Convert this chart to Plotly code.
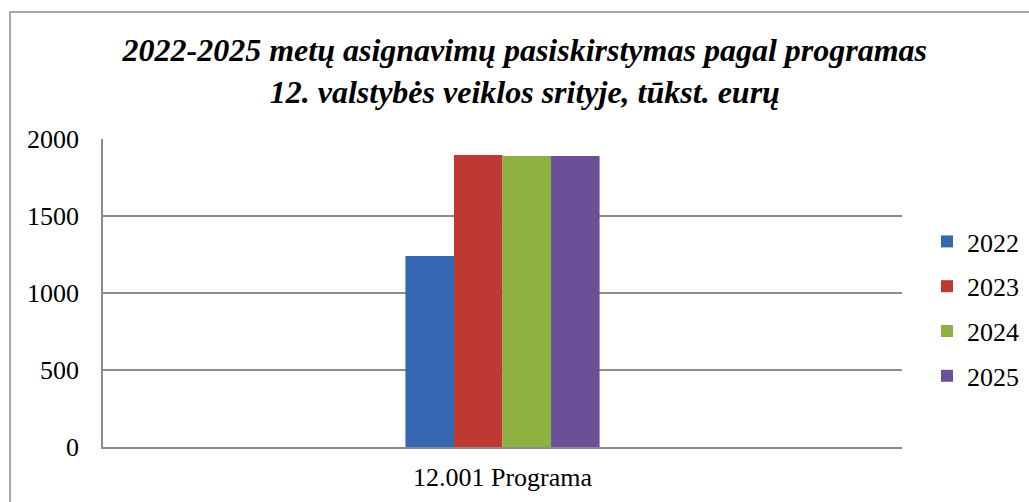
import plotly.graph_objects as go

categories = ["12.001 Programa"]
series_names = ["2022", "2023", "2024", "2025"]
values_2022 = [1240]
values_2023 = [1896]
values_2024 = [1890]
values_2025 = [1890]
series_values = [values_2022, values_2023, values_2024, values_2025]
colors = ["#3468B2", "#BE3834", "#8CB042", "#6D4F98"]
title_lines = ["2022-2025 metų asignavimų pasiskirstymas pagal programas",
               "12. valstybės veiklos srityje, tūkst. eurų"]
y_ticks = [0, 500, 1000, 1500, 2000]

FONT = "Liberation Serif"

fig = go.Figure()
for name, vals, col in zip(series_names, series_values, colors):
    fig.add_trace(go.Bar(x=categories, y=vals, name=name, legendgroup=name,
                         marker=dict(color=col, line=dict(width=0))))

W, H = 1029, 502
L, R, T, B = 103, 127, 139, 55
pw, ph = W - L - R, H - T - B

fig.update_layout(
    width=W, height=H,
    margin=dict(l=L, r=R, t=T, b=B, autoexpand=False),
    paper_bgcolor="white", plot_bgcolor="white",
    barmode="group", bargap=0.757, bargroupgap=0,
    font=dict(family=FONT, size=26, color="black"),
    title=dict(text="<br>".join(title_lines), xref="container", x=0.51, xanchor="center",
               yref="container", y=1 - 61 / H, yanchor="top",
               font=dict(family=FONT, size=32, color="black", weight="bold", style="italic")),
    showlegend=True,
    legend=dict(xref="container", x=927 / W, xanchor="left",
                yref="container", y=1 - 309 / H, yanchor="middle",
                font=dict(family=FONT, size=26, color="black"),
                tracegroupgap=8, itemwidth=30, bgcolor="rgba(0,0,0,0)"),
    xaxis=dict(showline=True, linecolor="#8c8c8c", linewidth=1.5, showgrid=False,
               ticks="", ticklabelstandoff=6, tickfont=dict(size=26, family=FONT), automargin=False),
    yaxis=dict(range=[0, 2000], tickvals=y_ticks, showline=True, linecolor="#8c8c8c",
               linewidth=1.5, showgrid=True, gridcolor="#8c8c8c", gridwidth=1.5,
               ticks="", ticklabelstandoff=17, tickfont=dict(size=26, family=FONT), zeroline=False,
               automargin=False),
    shapes=[dict(type="rect", xref="paper", yref="paper",
                 x0=(10 - L) / pw, x1=(W + 20 - L) / pw,
                 y0=-80 / ph, y1=(H - B - 12) / ph,
                 line=dict(color="#8c8c8c", width=1.5), fillcolor="rgba(0,0,0,0)", layer="below")],
)

fig.write_html("out.html", config={"displayModeBar": False},
               post_script="document.body.style.margin='0';document.body.style.padding='0';")
